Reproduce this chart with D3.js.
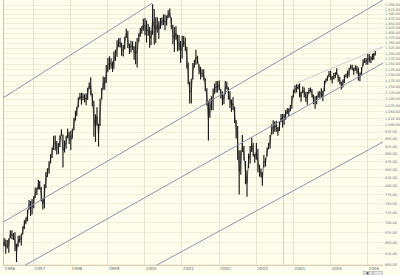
<!DOCTYPE html>
<html><head><meta charset="utf-8">
<script src="https://cdn.jsdelivr.net/npm/d3@7"></script>
<style>html,body{margin:0;padding:0;background:#fffdeb;} svg{display:block}</style>
</head><body>
<svg id="c" width="400" height="275"></svg>
<script>
// ---------- data ----------
const yearLabels = ["1996","1997","1998","1999","2000","2001","2002","2003","2004","2005","2006"];
const yTickValues = [600,625,650,675,700,725,750,775,800,825,850,875,900,925,950,975,1000,1025,1050,1075,1100,1125,1150,1175,1200,1225,1250,1275,1300,1325,1350,1375,1400,1425,1450,1475,1500,1525,1550];
const firstPeriod = "1996-03"; // half-month bars, two per month
const highs = [
 656,661, 657,656, 660,680, 680,673, 675,647, 666,667, 672,690, 706,712, 733,759, 757,762,
 770,795, 795,818, 814,796, 763,804, 841,853, 875,898, 920,960, 961,942, 935,961, 983,965, 944,960, 986,975,
 978,985, 1025,1052, 1068,1106, 1123,1124, 1122,1118, 1122,1145, 1167,1190, 1121,1092, 1039,1066, 1003,1100, 1144,1193, 1190,1244,
 1276,1284, 1275,1260, 1307,1316, 1362,1372, 1375,1350, 1338,1380, 1420,1410, 1345,1360, 1357,1334, 1354,1373, 1397,1425, 1435,1473,
 1478,1465, 1445,1429, 1410,1553, 1527,1482, 1481,1460, 1478,1480, 1497,1496, 1491,1520, 1530,1480, 1441,1430, 1434,1390, 1389,1358,
 1384,1383, 1376,1330, 1256,1170, 1183,1253, 1268,1316, 1287,1248, 1236,1225, 1225,1185, 1143,1092, 1100,1110, 1142,1163, 1173,1173,
 1176,1140, 1130,1117, 1173,1170, 1147,1130, 1097,1107, 1068,1017, 995,911, 911,963, 925,876, 846,900, 925,954, 936,898,
 935,916, 864,852, 840,895, 886,920, 935,963, 1002,1016, 1012,1015, 992,1012, 1040,1040, 1040,1055, 1063,1062, 1075,1112,
 1137,1155, 1160,1158, 1163,1128, 1150,1146, 1128,1127, 1144,1146, 1140,1116, 1110,1112, 1129,1131, 1143,1133, 1175,1185, 1197,1217,
 1218,1195, 1208,1212, 1229,1200, 1192,1170, 1180,1200, 1206,1219, 1232,1245, 1245,1232, 1243,1240, 1233,1210, 1235,1270, 1275,1276,
 1295,1295, 1285,1297, 1300,1310
];
const lows = [
 627,641, 624,636, 626,660, 658,656, 630,605, 640,650, 643,670, 683,695, 702,733, 716,720,
 737,765, 773,789, 789,755, 733,737, 793,826, 836,868, 885,912, 910,897, 898,922, 960,855, 903,916, 952,932,
 912,950, 980,1015, 1032,1065, 1096,1076, 1094,1085, 1074,1095, 1140,1114, 1070,957, 939,997, 923,995, 1097,1136, 1136,1165,
 1212,1223, 1227,1213, 1227,1262, 1282,1328, 1326,1287, 1283,1318, 1373,1324, 1295,1302, 1316,1268, 1247,1233, 1355,1380, 1395,1410,
 1387,1350, 1385,1325, 1339,1390, 1340,1348, 1400,1370, 1420,1438, 1440,1413, 1438,1478, 1480,1420, 1342,1305, 1365,1308, 1312,1254,
 1274,1330, 1310,1228, 1160,1081, 1081,1180, 1232,1245, 1250,1203, 1180,1190, 1175,1130, 1073,944, 1026,1054, 1054,1120, 1125,1125,
 1135,1101, 1074,1079, 1118,1139, 1097,1063, 1048,1055, 1006,952, 880,775, 833,905, 877,804, 768,853, 868,905, 890,870,
 880,840, 827,825, 800,855, 858,890, 914,917, 964,967, 975,975, 960,977, 1010,990, 1000,1018, 1040,1032, 1050,1060,
 1105,1122, 1125,1138, 1105,1088, 1123,1105, 1088,1076, 1120,1125, 1105,1078, 1060,1078, 1105,1102, 1106,1090, 1130,1168, 1174,1190,
 1177,1163, 1180,1185, 1200,1170, 1160,1137, 1146,1165, 1190,1185, 1192,1225, 1220,1201, 1218,1205, 1176,1172, 1200,1237, 1253,1245,
 1245,1256, 1253,1266, 1268,1288
];
const channelStarts = ["1996-03-12","1996-03-12","1996-09-13","1999-11-15","2004-02-11"];
const channelStartValues = [1103, 700, 594, 578, 1165];
const channelEnds = ["2000-03-20","2006-06-07","2006-06-07","2006-06-07","2006-06-07"];
const channelEndValues = [1560, 1578, 1253, 939, 1329];
const channelKinds = ["main","main","main","main","light"];
const markerDates = ["2003-09-25"];
const domainDates = ["1996-03-12","2006-06-07"];
const valueDomain = [598.6, 1578];

// ---------- chart ----------
const parse = d3.timeParse("%Y-%m-%d");
const svg = d3.select("#c");
const plot = {l:3, r:383, t:0, b:265};

const x = d3.scaleTime().domain(domainDates.map(parse)).range([plot.l, plot.r]);
const y = d3.scaleLog().domain(valueDomain).range([plot.b, plot.t]);

svg.append("rect").attr("width",400).attr("height",275).attr("fill","#fffdeb");

svg.append("clipPath").attr("id","clip").append("rect")
  .attr("x",plot.l).attr("y",plot.t).attr("width",plot.r-plot.l).attr("height",plot.b-plot.t);

// horizontal grid
svg.append("g").selectAll("line").data(yTickValues).join("line")
  .attr("x1",plot.l).attr("x2",plot.r)
  .attr("y1",d=>Math.round(y(d))+0.5).attr("y2",d=>Math.round(y(d))+0.5)
  .attr("stroke","#f2eed8").attr("stroke-width",1);

// vertical grid (year starts)
const yearDates = yearLabels.map(s=>{const d=new Date(+s,0,1); return d<x.domain()[0]? x.domain()[0]: d;});
svg.append("g").selectAll("line").data(yearDates.slice(1)).join("line")
  .attr("x1",d=>Math.round(x(d))+0.5).attr("x2",d=>Math.round(x(d))+0.5)
  .attr("y1",plot.t).attr("y2",plot.b)
  .attr("stroke","#e8e3cc").attr("stroke-width",1);

svg.append("g").selectAll("line").data(markerDates.map(parse)).join("line")
  .attr("x1",d=>Math.round(x(d))+0.5).attr("x2",d=>Math.round(x(d))+0.5)
  .attr("y1",plot.t).attr("y2",plot.b)
  .attr("stroke","#d8d4c2").attr("stroke-width",1);

// borders
svg.append("line").attr("x1",plot.l+0.5).attr("x2",plot.l+0.5).attr("y1",0).attr("y2",plot.b)
  .attr("stroke","#c9c5b2");
svg.append("line").attr("x1",plot.l).attr("x2",plot.r).attr("y1",plot.b+0.5).attr("y2",plot.b+0.5)
  .attr("stroke","#d6d2bf");

// price bars
const start = d3.timeParse("%Y-%m")(firstPeriod);
const bars = highs.map((h,i)=>{
  const m = d3.timeMonth.offset(start, Math.floor(i/2));
  const d = d3.timeDay.offset(m, i%2===0 ? 7 : 22);
  return {date:d, hi:h, lo:lows[i]};
});
const g = svg.append("g").attr("clip-path","url(#clip)");
g.selectAll("line.bar").data(bars).join("line").attr("class","bar")
  .attr("x1",d=>x(d.date)).attr("x2",d=>x(d.date))
  .attr("y1",d=>y(d.hi)).attr("y2",d=>y(d.lo))
  .attr("stroke","#1a1a1a").attr("stroke-width",1.15);
// connecting trace
g.append("path").datum(bars)
  .attr("d", d3.line().x(d=>x(d.date)).y(d=>y((d.hi+d.lo)/2)))
  .attr("fill","none").attr("stroke","#1a1a1a").attr("stroke-width",0.6);

// channel lines
const chan = channelStarts.map((s,i)=>({d0:parse(s),v0:channelStartValues[i],d1:parse(channelEnds[i]),v1:channelEndValues[i],k:channelKinds[i]}));
g.selectAll("line.ch").data(chan).join("line").attr("class","ch")
  .attr("x1",d=>x(d.d0)).attr("y1",d=>y(d.v0))
  .attr("x2",d=>x(d.d1)).attr("y2",d=>y(d.v1))
  .attr("stroke",d=>d.k==="main"?"#8d93b0":"#c3c6d6")
  .attr("stroke-width",d=>d.k==="main"?1:0.9);

// right value axis
const ya = svg.append("g").attr("transform",`translate(${plot.r+2},0)`)
  .call(d3.axisRight(y).tickValues(yTickValues).tickFormat(d3.format(",.2f")).tickSize(0).tickPadding(0));
ya.select(".domain").remove();
ya.selectAll("text").attr("font-family","DejaVu Sans").attr("font-size","3.4px").attr("fill","#6b6b6b");

// bottom year axis
const xa = svg.append("g").attr("transform",`translate(0,${plot.b})`)
  .call(d3.axisBottom(x).tickValues(yearDates).tickFormat((d,i)=>yearLabels[i]).tickSize(0).tickPadding(2));
xa.select(".domain").remove();
xa.selectAll("text").attr("text-anchor","start").attr("dx","1px")
  .attr("font-family","DejaVu Sans").attr("font-size","4.2px").attr("fill","#6b6b6b");

// tiny scroll widget bottom-right
const wdg = svg.append("g");
[363,373].forEach(px=>{
  wdg.append("rect").attr("x",px+0.5).attr("y",271.5).attr("width",9).attr("height",3.5)
    .attr("fill","#e4e4e4").attr("stroke","#a8a8a8").attr("stroke-width",0.6);
});
wdg.append("rect").attr("x",366.5).attr("y",272.3).attr("width",2).attr("height",2).attr("fill","#444");
</script>
</body></html>
